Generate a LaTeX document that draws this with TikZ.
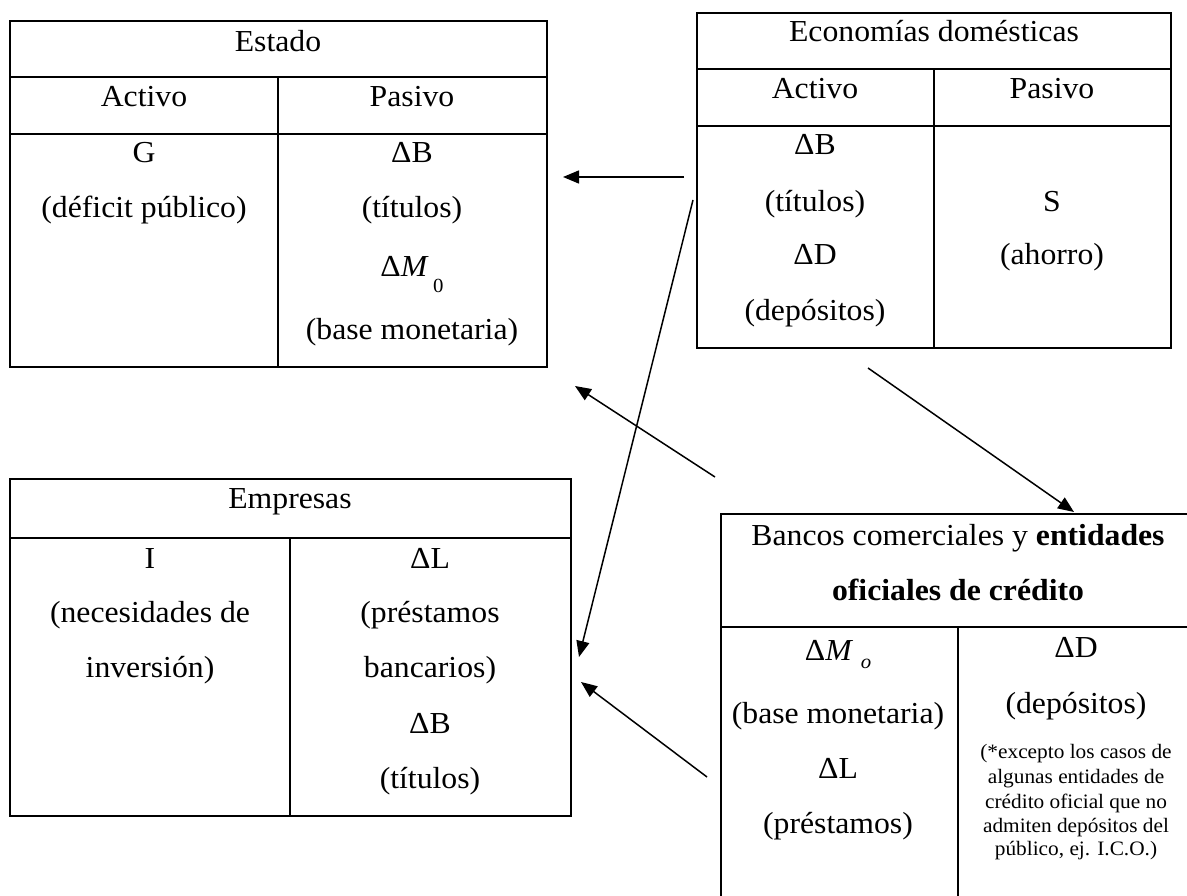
\documentclass[tikz,border=0pt]{standalone}
\usepackage{fontspec}
\setmainfont{Liberation Serif}[FakeStretch=1.04]
\usetikzlibrary{arrows.meta}
% lowered small index after a symbol, as in Delta M_0
\newcommand\lowidx[3]{\hspace{#1}\raisebox{#2}{\fontsize{20}{20}\selectfont #3}}
\begin{document}
\begin{tikzpicture}[x=1pt,y=-1pt,
  frame/.style={line width=2.4pt},
  txt/.style={anchor=base,inner sep=0pt,font=\fontsize{30.5}{36}\selectfont},
  note/.style={anchor=base,inner sep=0pt,font=\fontsize{20.5}{24}\selectfont},
  flow/.style={line width=1.5pt,-{Triangle[length=16pt,width=13pt]}}]
\useasboundingbox (0,0) rectangle (1187,896);

% ---------- Estado ----------
\draw[frame] (10,21) rectangle (547,367);
\draw[frame] (10,77) -- (547,77);
\draw[frame] (10,134) -- (547,134);
\draw[frame] (278,77) -- (278,367);
\node[txt] (est-t)  at (278,52)  {Estado};
\node[txt] (est-a)  at (144,107) {Activo};
\node[txt] (est-p)  at (412,107) {Pasivo};
\node[txt] (est-a1) at (144,163) {G};
\node[txt] (est-a2) at (144,218) {(déficit público)};
\node[txt] (est-p1) at (412,163) {ΔB};
\node[txt] (est-p2) at (412,218) {(títulos)};
\node[txt] (est-p3) at (412,277) {Δ\textit{M}\lowidx{0.15em}{-0.5em}{0}};
\node[txt] (est-p4) at (412,340) {(base monetaria)};

% ---------- Economías domésticas ----------
\draw[frame] (697,13) rectangle (1171,348);
\draw[frame] (697,69) -- (1171,69);
\draw[frame] (697,126) -- (1171,126);
\draw[frame] (934,69) -- (934,348);
\node[txt] (eco-t)  at (934,42)  {Economías domésticas};
\node[txt] (eco-a)  at (815,99)  {Activo};
\node[txt] (eco-p)  at (1052,99) {Pasivo};
\node[txt] (eco-a1) at (815,155) {ΔB};
\node[txt] (eco-a2) at (815,212) {(títulos)};
\node[txt] (eco-a3) at (815,265) {ΔD};
\node[txt] (eco-a4) at (815,320) {(depósitos)};
\node[txt] (eco-p1) at (1052,212) {S};
\node[txt] (eco-p2) at (1052,265) {(ahorro)};

% ---------- Empresas ----------
\draw[frame] (10,479) rectangle (571,816);
\draw[frame] (10,538) -- (571,538);
\draw[frame] (290,538) -- (290,816);
\node[txt] (emp-t)  at (290,508) {Empresas};
\node[txt] (emp-a1) at (150,568) {I};
\node[txt] (emp-a2) at (150,622) {(necesidades de};
\node[txt] (emp-a3) at (150,677) {inversión)};
\node[txt] (emp-p1) at (430,568) {ΔL};
\node[txt] (emp-p2) at (430,622) {(préstamos};
\node[txt] (emp-p3) at (430,677) {bancarios)};
\node[txt] (emp-p4) at (430,733) {ΔB};
\node[txt] (emp-p5) at (430,788) {(títulos)};

% ---------- Bancos comerciales (open to the right and below) ----------
\draw[frame] (1187,514) -- (721,514) -- (721,896);
\draw[frame] (721,627) -- (1187,627);
\draw[frame] (958,627) -- (958,896);
\node[txt] (ban-t1) at (958,545) {Bancos comerciales y \textbf{entidades}};
\node[txt] (ban-t2) at (958,600) {\textbf{oficiales de crédito}};
\node[txt] (ban-a1) at (838,660) {Δ\textit{M}\lowidx{0.25em}{-0.28em}{\textit{o}}};
\node[txt] (ban-a2) at (838,723) {(base monetaria)};
\node[txt] (ban-a3) at (838,778) {ΔL};
\node[txt] (ban-a4) at (838,833) {(préstamos)};
\node[txt] (ban-p1) at (1076,657) {ΔD};
\node[txt] (ban-p2) at (1076,713) {(depósitos)};
\node[note] (ban-n1) at (1076,758) {(*excepto los casos de};
\node[note] (ban-n2) at (1076,783) {algunas entidades de};
\node[note] (ban-n3) at (1076,808) {crédito oficial que no};
\node[note] (ban-n4) at (1076,832) {admiten depósitos del};
\node[note] (ban-n5) at (1076,855) {público, ej. I.C.O.)};

% ---------- flow ends ----------
\coordinate (eco-out1) at (684,177);
\coordinate (est-in1)  at (563,177);
\coordinate (eco-out2) at (693,200);
\coordinate (emp-in1)  at (579,657);
\coordinate (ban-out1) at (715,477);
\coordinate (est-in2)  at (575,386);
\coordinate (ban-out2) at (707,777);
\coordinate (emp-in2)  at (581,682);
\coordinate (eco-out3) at (868,368);
\coordinate (ban-in1)  at (1074,512);

\draw[flow] (eco-out1) -- (est-in1);
\draw[flow] (eco-out2) -- (emp-in1);
\draw[flow] (ban-out1) -- (est-in2);
\draw[flow] (ban-out2) -- (emp-in2);
\draw[flow] (eco-out3) -- (ban-in1);
\end{tikzpicture}
\end{document}
